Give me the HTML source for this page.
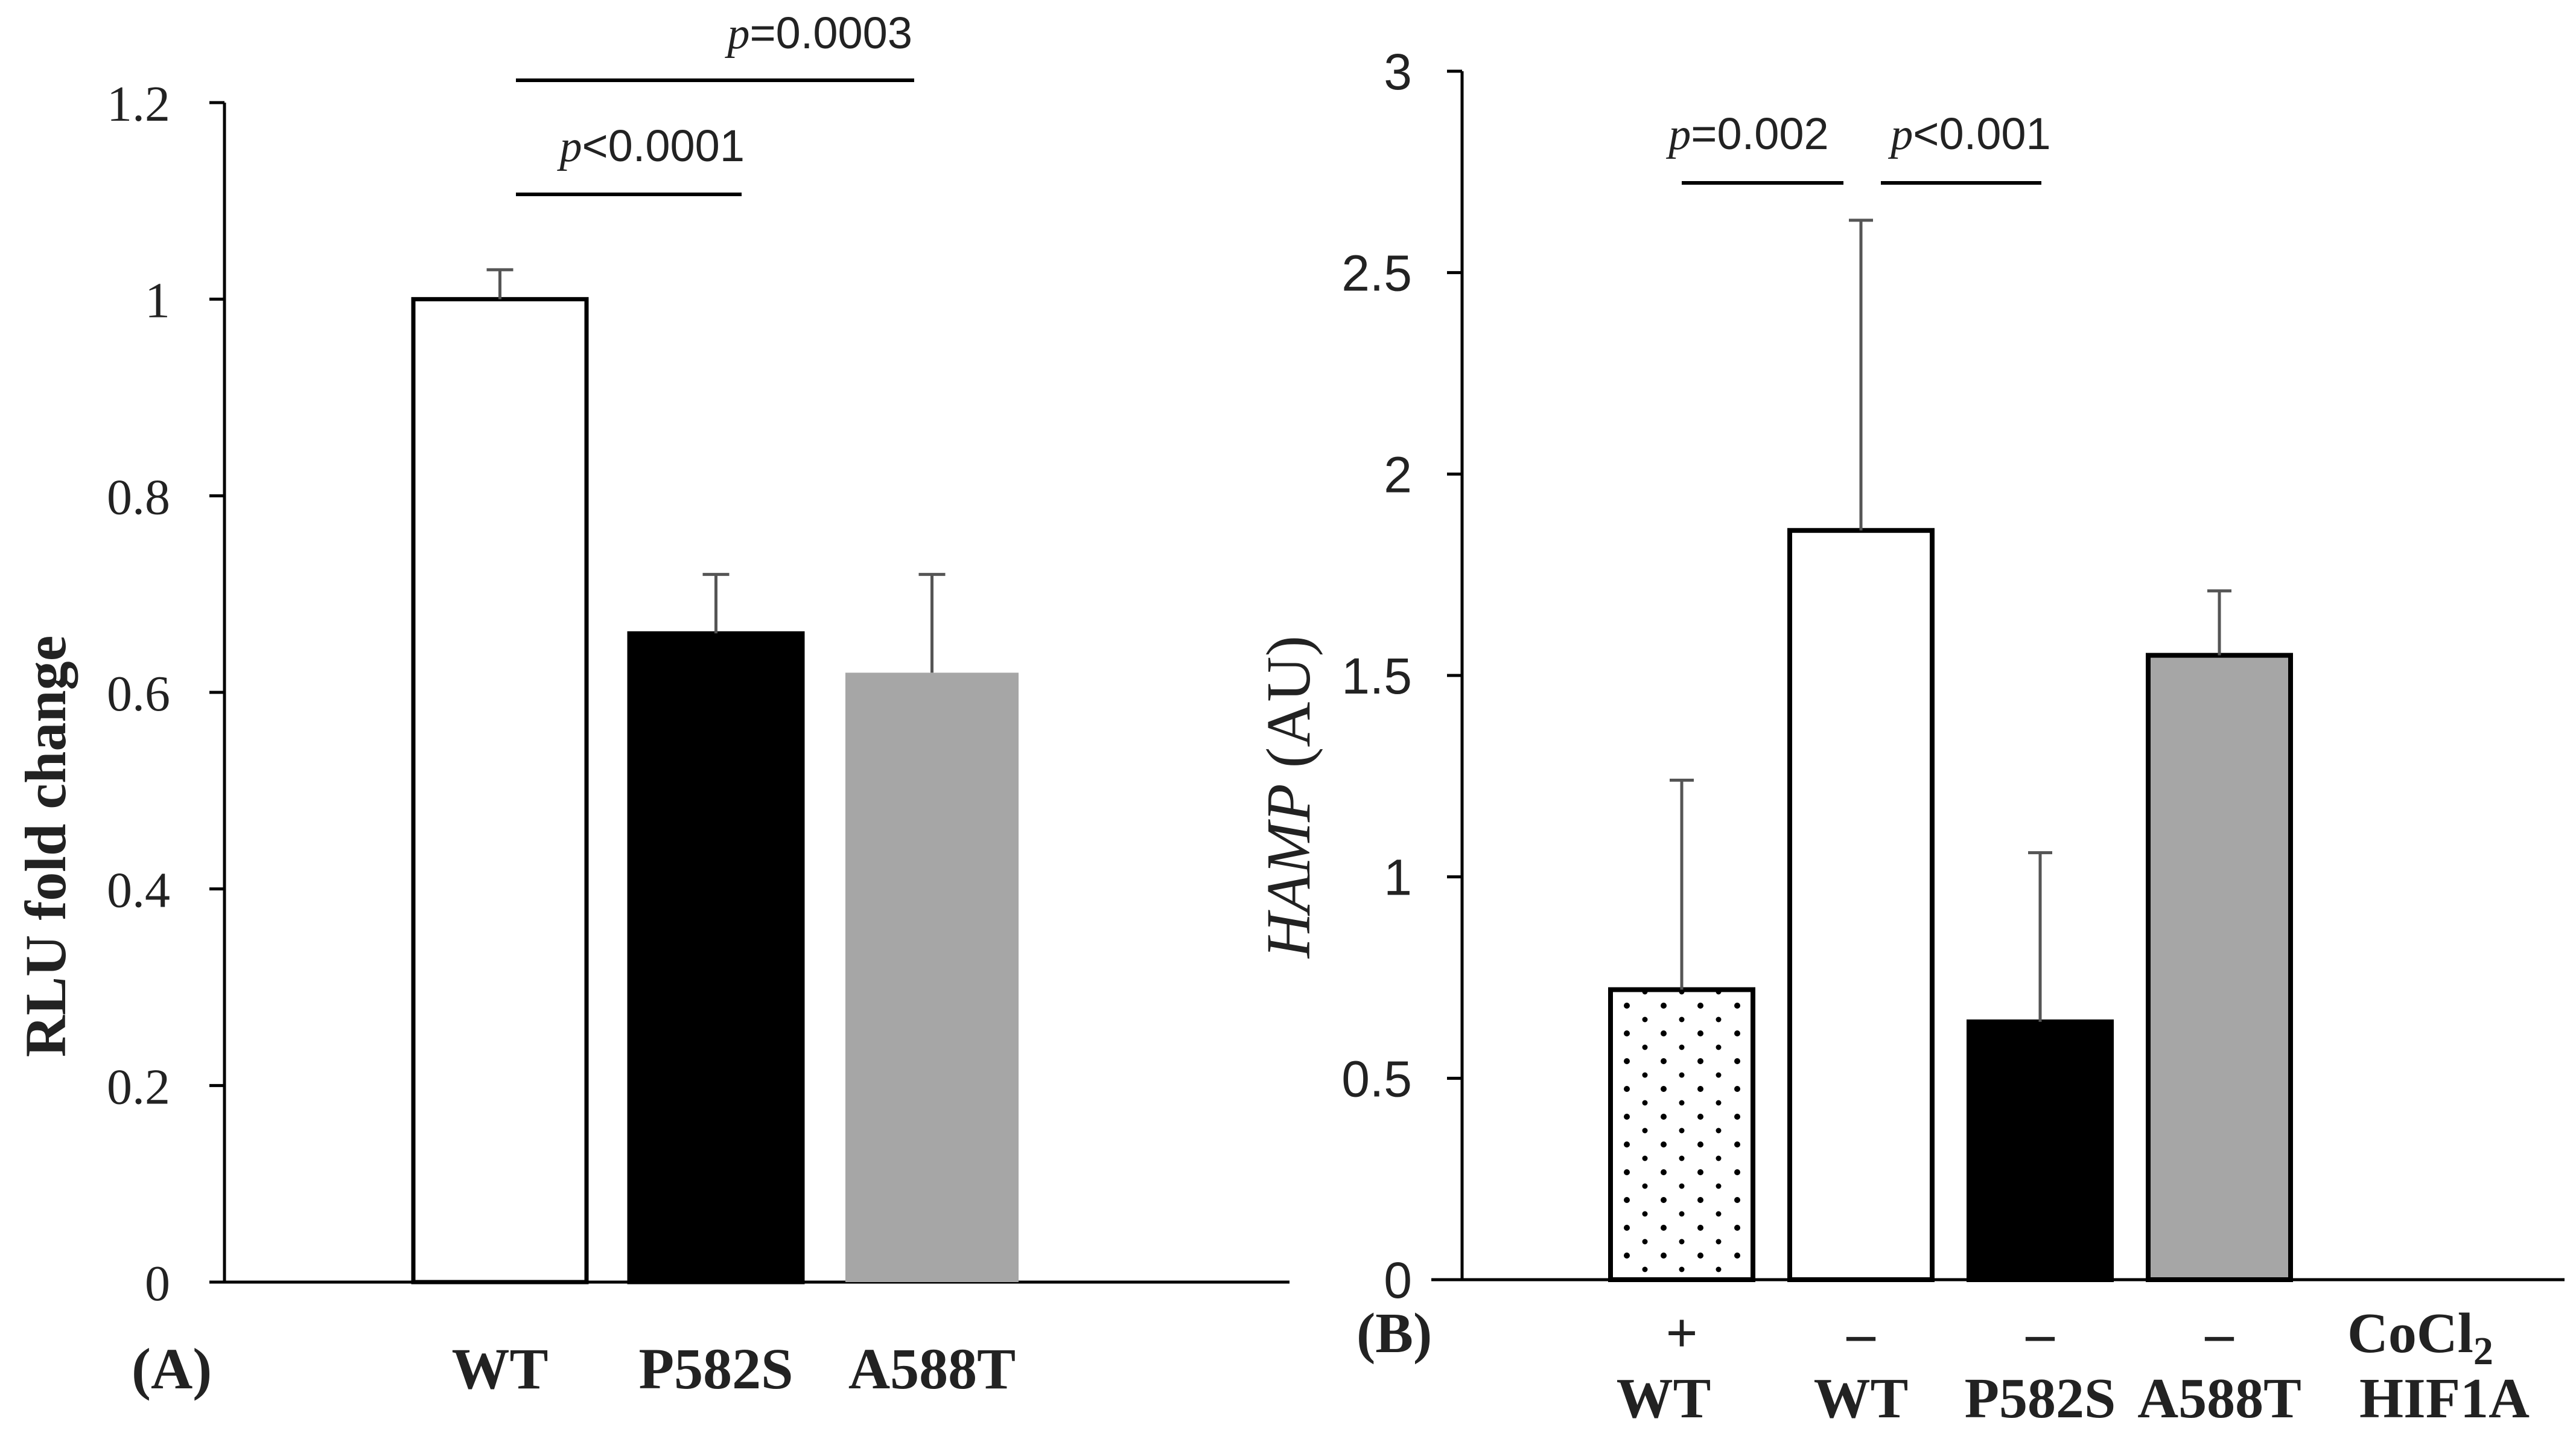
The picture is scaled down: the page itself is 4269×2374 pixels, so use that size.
<!DOCTYPE html>
<html><head><meta charset="utf-8">
<style>
html,body{margin:0;padding:0;background:#fff;}
svg{display:block;}
.serif{font-family:"Liberation Serif",serif;}
.sans{font-family:"Liberation Sans",sans-serif;}
</style></head>
<body>
<svg id="chart" width="4269" height="2374" viewBox="0 0 4269 2374" xmlns="http://www.w3.org/2000/svg">
<defs>
<pattern id="dots" x="0" y="0" width="61" height="46" patternUnits="userSpaceOnUse">
<circle cx="12" cy="10" r="5" fill="#000"/>
<circle cx="42" cy="33" r="4.5" fill="#000"/>
</pattern>
</defs>
<g id="panelA"></g>
<g id="panelB"></g>
</svg>
<script>
// Panel A data
const catsA = ["WT", "P582S", "A588T"];
const valsA = [1.0, 0.66, 0.62];
const errA = [1.03, 0.72, 0.72];
const ticksA = [0, 0.2, 0.4, 0.6, 0.8, 1, 1.2];
const tickLabelsA = ["0", "0.2", "0.4", "0.6", "0.8", "1", "1.2"];
// Panel B data
const catsB = ["WT", "WT", "P582S", "A588T"];
const cocl2B = ["+", "–", "–", "–"];
const valsB = [0.72, 1.86, 0.64, 1.55];
const errB = [1.24, 2.63, 1.06, 1.71];
const ticksB = [0, 0.5, 1, 1.5, 2, 2.5, 3];
const tickLabelsB = ["0", "0.5", "1", "1.5", "2", "2.5", "3"];

const NS = "http://www.w3.org/2000/svg";
function mk(parent, tag, attrs, text) {
  const e = document.createElementNS(NS, tag);
  for (const k in attrs) e.setAttribute(k, attrs[k]);
  if (text !== undefined) e.textContent = text;
  parent.appendChild(e);
  return e;
}

// ---------- Panel A ----------
const A = document.getElementById("panelA");
const yA = v => 2124 - v / 1.2 * (2124 - 170);
const axA = 372;
let e;
e = mk(A, "line", {x1: axA, y1: yA(1.2), x2: axA, y2: 2126, stroke: "#000", "stroke-width": 5});


e = mk(A, "line", {x1: 347, y1: 2124, x2: 2137, y2: 2124, stroke: "#000", "stroke-width": 5});


ticksA.forEach((t, i) => {
  const tk = mk(A, "line", {x1: 347, y1: yA(t), x2: axA, y2: yA(t), stroke: "#000", "stroke-width": 5});
  
  
  const lb = mk(A, "text", {x: 282, y: yA(t) + 30, "text-anchor": "end", "font-size": 84, class: "serif", fill: "#222"}, tickLabelsA[i]);
  
  
});
const fillsA = ["#fff", "#000", "#a6a6a6"];
const strokesA = ["#000", "#000", "none"];
const x0A = 685, stepA = 358, wA = 287;
catsA.forEach((c, i) => {
  const x = x0A + i * stepA;
  const cx = x + wA / 2;
  const b = mk(A, "rect", {x: x, y: yA(valsA[i]), width: wA, height: 2124 - yA(valsA[i]), fill: fillsA[i], stroke: strokesA[i], "stroke-width": 7});
  
  
  const eb = mk(A, "path", {d: `M${cx},${yA(valsA[i])} V${yA(errA[i])} M${cx-22},${yA(errA[i])} H${cx+22}`, stroke: "#555", "stroke-width": 5, fill: "none"});
  
  
  const lb = mk(A, "text", {x: cx, y: 2300, "text-anchor": "middle", "font-size": 96, "font-weight": "bold", class: "serif", fill: "#222"}, c);
  
  
});
e = mk(A, "text", {x: 218, y: 2300, "font-size": 96, "font-weight": "bold", class: "serif", fill: "#222"}, "(A)");


e = mk(A, "text", {x: 0, y: 0, transform: "translate(108,1402) rotate(-90)", "text-anchor": "middle", "font-size": 96, "font-weight": "bold", class: "serif", fill: "#222"}, "RLU fold change");


// significance
e = mk(A, "line", {x1: 855, y1: 133, x2: 1515, y2: 133, stroke: "#000", "stroke-width": 6});


e = mk(A, "line", {x1: 855, y1: 322, x2: 1229, y2: 322, stroke: "#000", "stroke-width": 6});


e = mk(A, "text", {x: 1512, y: 80, "text-anchor": "end", "font-size": 74, class: "sans", fill: "#222"});
e.innerHTML = '<tspan font-style="italic" class="serif">p</tspan>=0.0003';


e = mk(A, "text", {x: 1234, y: 267, "text-anchor": "end", "font-size": 74, class: "sans", fill: "#222"});
e.innerHTML = '<tspan font-style="italic" class="serif">p</tspan>&lt;0.0001';



// ---------- Panel B ----------
const B = document.getElementById("panelB");
const yB = v => 2120 - v / 3 * (2120 - 118);
const axB = 2423;
e = mk(B, "line", {x1: axB, y1: yB(3), x2: axB, y2: 2122, stroke: "#000", "stroke-width": 5});


e = mk(B, "line", {x1: 2372, y1: 2120, x2: 4250, y2: 2120, stroke: "#000", "stroke-width": 5});


ticksB.forEach((t, i) => {
  const tk = mk(B, "line", {x1: 2398, y1: yB(t), x2: axB, y2: yB(t), stroke: "#000", "stroke-width": 5});
  
  
  const lb = mk(B, "text", {x: 2340, y: yB(t) + 30, "text-anchor": "end", "font-size": 84, class: "sans", fill: "#222"}, tickLabelsB[i]);
  
  
});
const fillsB = ["url(#dots)", "#fff", "#000", "#a6a6a6"];
const x0B = 2669, stepB = 297, wB = 236;
catsB.forEach((c, i) => {
  const x = x0B + i * stepB;
  const cx = x + wB / 2;
  const b = mk(B, "rect", {x: x, y: yB(valsB[i]), width: wB, height: 2120 - yB(valsB[i]), fill: fillsB[i], stroke: "#000", "stroke-width": 8});
  
  
  const eb = mk(B, "path", {d: `M${cx},${yB(valsB[i])} V${yB(errB[i])} M${cx-20},${yB(errB[i])} H${cx+20}`, stroke: "#555", "stroke-width": 5, fill: "none"});
  
  
  const s = mk(B, "text", {x: cx, y: 2240, "text-anchor": "middle", "font-size": 94, "font-weight": "bold", class: "serif", fill: "#222"}, cocl2B[i]);
  
  
  const lb = mk(B, "text", {x: cx - (i === 0 ? 30 : 0), y: 2348, "text-anchor": "middle", "font-size": 94, "font-weight": "bold", class: "serif", fill: "#222"}, c);
  
  
});
e = mk(B, "text", {x: 2248, y: 2240, "font-size": 94, "font-weight": "bold", class: "serif", fill: "#222"}, "(B)");


e = mk(B, "text", {x: 3890, y: 2240, "font-size": 94, "font-weight": "bold", class: "serif", fill: "#222"});
e.innerHTML = 'CoCl<tspan font-size="66" dy="20">2</tspan>';


e = mk(B, "text", {x: 3910, y: 2348, "font-size": 94, "font-weight": "bold", class: "serif", fill: "#222"}, "HIF1A");


e = mk(B, "text", {x: 0, y: 0, transform: "translate(2170,1320) rotate(-90)", "text-anchor": "middle", "font-size": 104, class: "serif", fill: "#222"});
e.innerHTML = '<tspan font-style="italic">HAMP</tspan> (AU)';


e = mk(B, "line", {x1: 2787, y1: 303, x2: 3055, y2: 303, stroke: "#000", "stroke-width": 6});


e = mk(B, "line", {x1: 3117, y1: 303, x2: 3383, y2: 303, stroke: "#000", "stroke-width": 6});


e = mk(B, "text", {x: 2898, y: 247, "text-anchor": "middle", "font-size": 74, class: "sans", fill: "#222"});
e.innerHTML = '<tspan font-style="italic" class="serif">p</tspan>=0.002';


e = mk(B, "text", {x: 3266, y: 247, "text-anchor": "middle", "font-size": 74, class: "sans", fill: "#222"});
e.innerHTML = '<tspan font-style="italic" class="serif">p</tspan>&lt;0.001';


</script>
</body></html>
